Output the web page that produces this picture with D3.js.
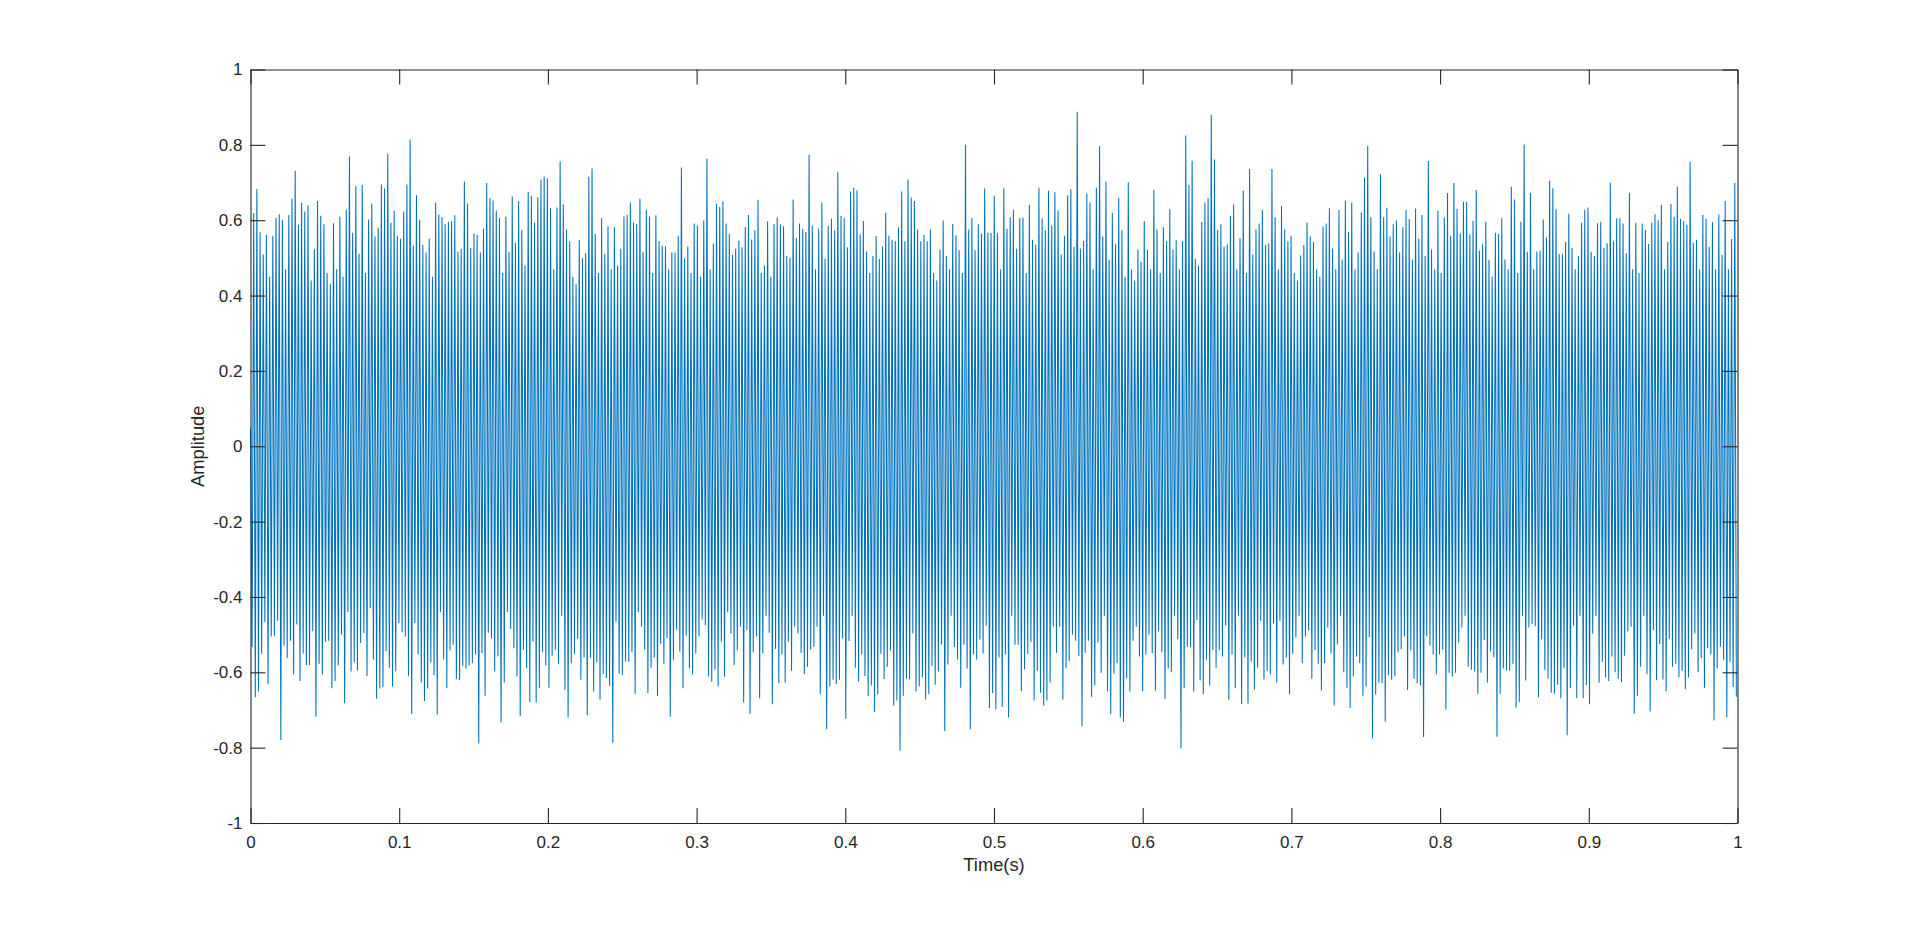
<!DOCTYPE html>
<html><head><meta charset="utf-8">
<script src="https://cdn.jsdelivr.net/npm/d3@7/dist/d3.min.js"></script>
<style>html,body{margin:0;padding:0;background:#fff;overflow:hidden}text{font-family:"Liberation Sans",Arial,sans-serif}</style>
</head><body><svg id="c" width="1920" height="926"></svg>
<script>
const xTicks=[0,0.1,0.2,0.3,0.4,0.5,0.6,0.7,0.8,0.9,1];
const yTicks=[-1,-0.8,-0.6,-0.4,-0.2,0,0.2,0.4,0.6,0.8,1];
const xLabel="Time(s)",yLabel="Amplitude";
const cyclePeriod=0.0021466; // spacing of the spikes, seconds
const crests=[0.05,
.619,.683,.568,.509,.561,.45,.559,.606,.616,.601,
.47,.614,.657,.731,.588,.646,.623,.640,.44,.523,
.651,.612,.589,.46,.43,.592,.47,.609,.45,.628,
.769,.567,.690,.511,.694,.46,.602,.644,.557,.580,
.695,.684,.776,.593,.625,.559,.551,.623,.695,.814,
.533,.666,.601,.535,.514,.551,.45,.646,.615,.608,
.589,.596,.597,.613,.516,.524,.703,.644,.526,.565,
.561,.514,.577,.699,.659,.652,.626,.605,.46,.609,
.516,.663,.540,.650,.573,.48,.675,.664,.594,.661,
.708,.716,.711,.632,.47,.634,.756,.642,.575,.544,
.45,.43,.548,.499,.512,.715,.737,.564,.46,.605,
.511,.584,.47,.581,.48,.524,.610,.614,.647,.593,
.590,.657,.516,.628,.610,.46,.613,.545,.532,.531,
.47,.514,.514,.559,.740,.499,.530,.46,.591,.586,
.45,.599,.764,.47,.538,.643,.635,.650,.591,.564,
.508,.525,.546,.528,.582,.614,.549,.573,.654,.46,
.48,.597,.45,.589,.607,.589,.584,.504,.500,.655,
.553,.591,.577,.569,.774,.586,.47,.578,.647,.498,
.585,.604,.573,.727,.611,.605,.528,.676,.686,.679,
.562,.598,.517,.46,.505,.558,.497,.530,.620,.559,
.548,.545,.581,.676,.544,.708,.660,.651,.575,.544,
.561,.544,.575,.46,.44,.522,.599,.505,.47,.590,
.560,.521,.46,.801,.575,.605,.520,.589,.565,.684,
.567,.566,.665,.566,.47,.685,.577,.608,.628,.524,
.605,.607,.46,.641,.548,.535,.686,.605,.573,.678,
.586,.674,.626,.509,.559,.666,.682,.529,.888,.525,
.545,.671,.647,.47,.686,.796,.557,.703,.495,.619,
.536,.659,.573,.45,.701,.47,.44,.522,.49,.597,
.521,.47,.681,.575,.46,.581,.544,.629,.522,.548,
.47,.544,.825,.694,.758,.498,.48,.595,.647,.659,
.880,.761,.574,.589,.530,.536,.612,.642,.47,.553,
.678,.46,.736,.509,.575,.591,.628,.534,.538,.736,
.608,.47,.638,.576,.544,.559,.46,.44,.506,.534,
.594,.557,.542,.47,.45,.583,.591,.632,.525,.47,
.627,.496,.652,.569,.647,.47,.514,.621,.713,.797,
.608,.517,.47,.722,.608,.633,.557,.589,.599,.514,
.581,.628,.603,.496,.631,.552,.614,.505,.757,.522,
.47,.625,.46,.607,.672,.559,.699,.630,.565,.649,
.648,.562,.598,.680,.519,.536,.596,.495,.45,.567,
.564,.605,.496,.47,.689,.655,.46,.596,.801,.516,
.673,.47,.517,.519,.602,.554,.705,.685,.629,.510,
.511,.542,.617,.527,.47,.505,.593,.628,.634,.516,
.505,.592,.596,.527,.539,.700,.544,.605,.605,.591,
.513,.673,.47,.593,.46,.591,.574,.537,.594,.616,
.600,.641,.47,.542,.643,.609,.689,.604,.598,.588,
.755,.540,.548,.47,.614,.604,.529,.595,.47,.616,
.508,.651,.47,.550,.699];
const troughs=[
-.532,-.666,-.651,-.551,-.467,-.632,-.505,-.504,-.463,-.780,
-.529,-.562,-.516,-.606,-.473,-.623,-.550,-.581,-.581,-.491,
-.718,-.577,-.606,-.518,-.516,-.642,-.623,-.582,-.500,-.682,
-.44,-.598,-.574,-.596,-.522,-.496,-.610,-.43,-.566,-.670,
-.643,-.640,-.544,-.588,-.638,-.597,-.469,-.494,-.505,-.609,
-.711,-.469,-.553,-.627,-.676,-.643,-.574,-.608,-.712,-.44,
-.566,-.642,-.542,-.527,-.618,-.621,-.584,-.590,-.582,-.575,
-.553,-.789,-.549,-.662,-.495,-.510,-.598,-.558,-.733,-.627,
-.44,-.485,-.536,-.611,-.716,-.540,-.589,-.679,-.519,-.680,
-.642,-.547,-.582,-.641,-.556,-.541,-.577,-.45,-.646,-.719,
-.576,-.551,-.511,-.620,-.561,-.714,-.562,-.651,-.573,-.672,
-.604,-.615,-.636,-.787,-.466,-.604,-.608,-.571,-.572,-.547,
-.657,-.44,-.479,-.540,-.655,-.588,-.561,-.662,-.524,-.577,
-.509,-.718,-.568,-.487,-.545,-.642,-.503,-.589,-.606,-.550,
-.505,-.460,-.475,-.611,-.625,-.593,-.637,-.519,-.612,-.44,
-.498,-.581,-.542,-.479,-.680,-.488,-.711,-.547,-.505,-.669,
-.550,-.45,-.495,-.685,-.538,-.629,-.553,-.627,-.519,-.596,
-.479,-.497,-.549,-.605,-.585,-.540,-.532,-.479,-.658,-.45,
-.751,-.638,-.620,-.631,-.620,-.510,-.723,-.517,-.45,-.588,
-.625,-.552,-.610,-.663,-.635,-.705,-.659,-.551,-.618,-.585,
-.542,-.688,-.675,-.808,-.662,-.617,-.619,-.497,-.650,-.638,
-.614,-.672,-.658,-.584,-.633,-.598,-.526,-.756,-.579,-.45,
-.533,-.566,-.641,-.527,-.590,-.751,-.553,-.566,-.513,-.550,
-.476,-.695,-.655,-.698,-.561,-.692,-.553,-.720,-.45,-.527,
-.527,-.650,-.592,-.551,-.520,-.675,-.596,-.654,-.688,-.675,
-.627,-.479,-.548,-.479,-.672,-.589,-.570,-.500,-.516,-.557,
-.744,-.548,-.516,-.665,-.635,-.521,-.601,-.45,-.650,-.711,
-.603,-.576,-.720,-.731,-.616,-.651,-.516,-.479,-.558,-.650,
-.553,-.500,-.549,-.649,-.492,-.547,-.671,-.590,-.600,-.45,
-.512,-.802,-.642,-.532,-.534,-.651,-.461,-.622,-.658,-.567,
-.635,-.541,-.588,-.541,-.558,-.476,-.673,-.553,-.642,-.45,
-.684,-.561,-.683,-.572,-.646,-.588,-.463,-.619,-.596,-.606,
-.471,-.627,-.463,-.579,-.561,-.658,-.551,-.507,-.45,-.576,
-.505,-.489,-.617,-.541,-.577,-.648,-.575,-.481,-.550,-.688,
-.526,-.45,-.600,-.641,-.695,-.611,-.558,-.575,-.662,-.638,
-.507,-.776,-.659,-.628,-.629,-.731,-.608,-.620,-.611,-.547,
-.539,-.505,-.647,-.542,-.617,-.629,-.635,-.772,-.505,-.529,
-.553,-.606,-.553,-.540,-.699,-.601,-.611,-.601,-.521,-.481,
-.45,-.585,-.593,-.598,-.657,-.601,-.514,-.627,-.545,-.560,
-.771,-.657,-.590,-.595,-.596,-.577,-.694,-.679,-.45,-.622,
-.481,-.472,-.478,-.666,-.513,-.593,-.617,-.654,-.657,-.633,
-.669,-.588,-.767,-.642,-.476,-.669,-.45,-.669,-.634,-.685,
-.498,-.45,-.628,-.572,-.613,-.623,-.558,-.600,-.617,-.626,
-.556,-.492,-.479,-.710,-.662,-.585,-.45,-.605,-.704,-.488,
-.621,-.525,-.619,-.650,-.511,-.585,-.577,-.613,-.596,-.645,
-.614,-.539,-.497,-.600,-.563,-.641,-.536,-.553,-.728,-.590,
-.532,-.567,-.720,-.572,-.639,-.665];

const W=1920,H=926,L=250.5,R=1737.5,T=69.5,B=823;
const ink="#262626";
const svg=d3.select("#c");
const x=d3.scaleLinear().domain([0,1]).range([L,R]);
const y=d3.scaleLinear().domain([-1,1]).range([B,T]);

const samples=[];
crests.forEach((c,i)=>{
  samples.push({t:i*cyclePeriod,v:c});
  if(i<troughs.length) samples.push({t:(i+0.5)*cyclePeriod,v:troughs[i]});
});
const line=d3.line().x(d=>x(Math.min(d.t,1))).y(d=>y(d.v));
svg.append("path").datum(samples).attr("d",line).attr("fill","none")
  .attr("stroke","#0072BD").attr("stroke-width",1.05).attr("stroke-linejoin","miter").attr("stroke-miterlimit",1);

const tl=14.9;
function style(g){g.selectAll("path,line").attr("stroke",ink).attr("stroke-width",1.1);g.selectAll("text").attr("fill",ink).attr("font-size",17).attr("font-family",'"Liberation Sans",Arial,sans-serif');}
svg.append("g").attr("transform",`translate(0,${B})`).call(d3.axisBottom(x).tickValues(xTicks).tickFormat(String).tickSizeInner(-tl).tickSizeOuter(0).tickPadding(12.6)).call(style);
svg.append("g").attr("transform",`translate(0,${T})`).call(d3.axisTop(x).tickValues(xTicks).tickFormat("").tickSizeInner(-tl).tickSizeOuter(0)).call(style);
svg.append("g").attr("transform",`translate(${L},0)`).call(d3.axisLeft(y).tickValues(yTicks).tickFormat(String).tickSizeInner(-tl).tickSizeOuter(0).tickPadding(8)).call(style);
svg.append("g").attr("transform",`translate(${R},0)`).call(d3.axisRight(y).tickValues(yTicks).tickFormat("").tickSizeInner(-tl).tickSizeOuter(0)).call(style);
svg.append("text").attr("x",(L+R)/2).attr("y",871).attr("text-anchor","middle").attr("font-size",18.3).attr("fill",ink).text(xLabel);
svg.append("text").attr("transform",`translate(204,${(T+B)/2}) rotate(-90)`).attr("text-anchor","middle").attr("font-size",18.3).attr("fill",ink).text(yLabel);
</script></body></html>
